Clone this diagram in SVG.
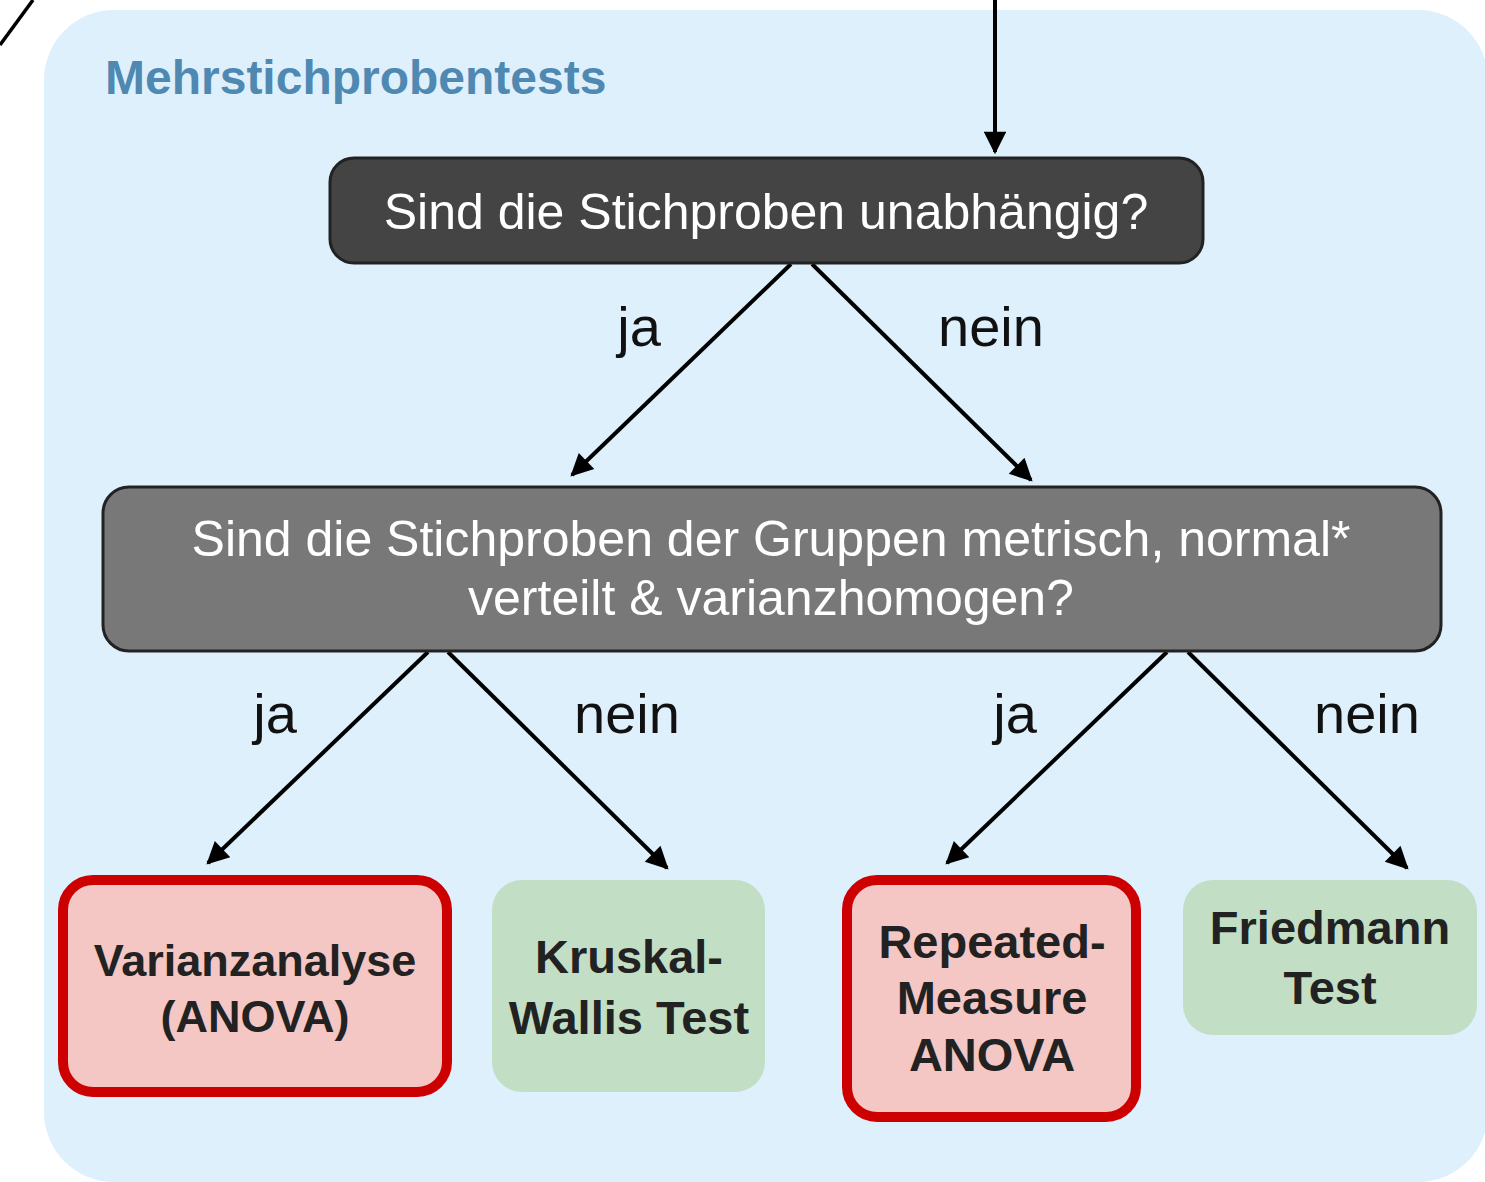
<svg xmlns="http://www.w3.org/2000/svg" width="1485" height="1182" viewBox="0 0 1485 1182">
<style>
.lbl{font-family:"Liberation Sans",Arial,sans-serif;font-size:56px;fill:#111;text-anchor:middle}
.q{font-family:"Liberation Sans",Arial,sans-serif;font-size:50px;fill:#fff;text-anchor:middle}
.res{font-family:"Liberation Sans",Arial,sans-serif;font-size:47px;font-weight:bold;fill:#222;text-anchor:middle}
.res.sm{font-size:45px}
.edge{stroke:#000;stroke-width:4;fill:none;marker-end:url(#ah)}
.red{fill:#f4c6c4;stroke:#cc0000;stroke-width:10}
.green{fill:#c2dfc6;stroke:none}
</style>
<defs>
<marker id="ah" viewBox="0 0 10 10" refX="9" refY="5" markerWidth="6.2" markerHeight="5.6" orient="auto" markerUnits="strokeWidth">
<path d="M0,0 L10,5 L0,10 z" fill="#000"/>
</marker>
</defs>
<rect width="1485" height="1182" fill="#fff"/>
<g id="panel">
<rect x="44" y="10" width="1444" height="1172" rx="70" fill="#dff0fd"/>
<text x="105" y="94" font-family="Liberation Sans,Arial,sans-serif" font-size="48" font-weight="bold" fill="#4f89b2">Mehrstichprobentests</text>
</g>
<g id="connectors">
<line x1="0" y1="45" x2="33" y2="0" stroke="#000" stroke-width="3.5"/>
<line class="edge" x1="995" y1="0" x2="995" y2="152"/>
<line class="edge" x1="791" y1="264" x2="572" y2="475"/>
<line class="edge" x1="812" y1="264" x2="1031" y2="480"/>
<line class="edge" x1="428" y1="652" x2="208" y2="863"/>
<line class="edge" x1="448" y1="652" x2="667" y2="868"/>
<line class="edge" x1="1167" y1="652" x2="947" y2="863"/>
<line class="edge" x1="1188" y1="652" x2="1407" y2="868"/>
<text class="lbl" x="639" y="346">ja</text>
<text class="lbl" x="991" y="346">nein</text>
<text class="lbl" x="275" y="733">ja</text>
<text class="lbl" x="627" y="733">nein</text>
<text class="lbl" x="1015" y="733">ja</text>
<text class="lbl" x="1367" y="733">nein</text>
</g>
<g id="q1">
<rect x="330" y="158" width="873" height="105" rx="24" fill="#444" stroke="#222" stroke-width="3"/>
<text class="q" x="766" y="229">Sind die Stichproben unabhängig?</text>
</g>
<g id="q2">
<rect x="103" y="487" width="1338" height="164" rx="26" fill="#787878" stroke="#222" stroke-width="3"/>
<text class="q" x="771" y="556">Sind die Stichproben der Gruppen metrisch, normal*</text>
<text class="q" x="771" y="615">verteilt &amp; varianzhomogen?</text>
</g>
<g id="anova">
<rect class="red" x="63" y="880" width="384" height="212" rx="30"/>
<text class="res sm" x="255" y="976">Varianzanalyse</text>
<text class="res sm" x="255" y="1032">(ANOVA)</text>
</g>
<g id="kruskal">
<rect class="green" x="492" y="880" width="273" height="212" rx="30"/>
<text class="res" x="629" y="973">Kruskal-</text>
<text class="res" x="629" y="1034">Wallis Test</text>
</g>
<g id="rmanova">
<rect class="red" x="847" y="880" width="289" height="237" rx="30"/>
<text class="res" x="992" y="958">Repeated-</text>
<text class="res" x="992" y="1014">Measure</text>
<text class="res" x="992" y="1071">ANOVA</text>
</g>
<g id="friedmann">
<rect class="green" x="1183" y="880" width="294" height="155" rx="30"/>
<text class="res" x="1330" y="944">Friedmann</text>
<text class="res" x="1330" y="1004">Test</text>
</g>
</svg>
